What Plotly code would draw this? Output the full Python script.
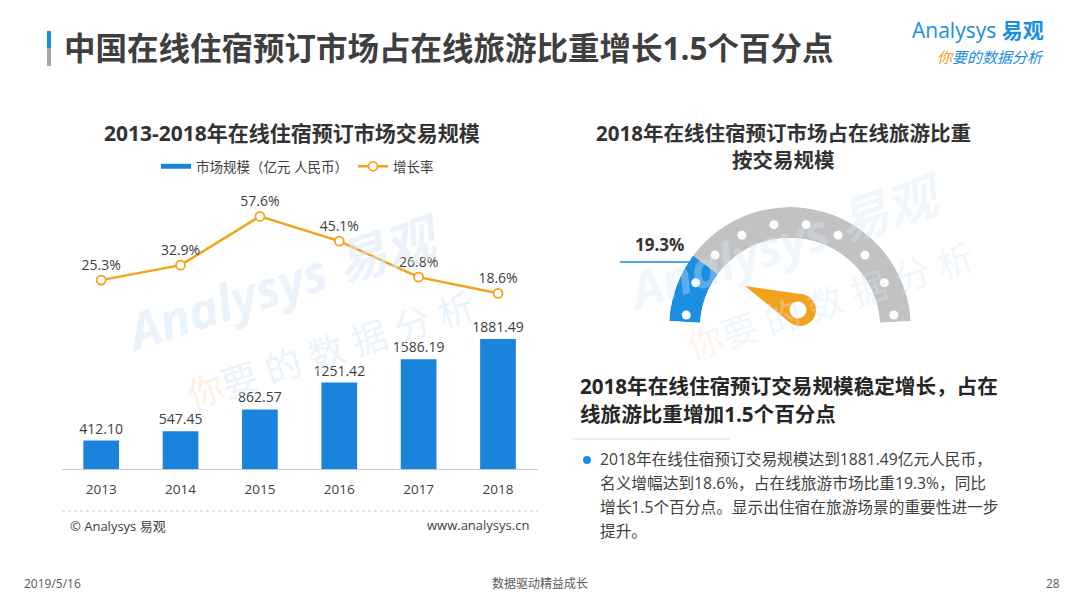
import math
import plotly.graph_objs as go

# Data
YEARS = ['2013', '2014', '2015', '2016', '2017', '2018']
MARKET_SIZE = [412.10, 547.45, 862.57, 1251.42, 1586.19, 1881.49]   # 亿元
GROWTH = [25.3, 32.9, 57.6, 45.1, 26.8, 18.6]                      # %
SHARE_2018 = 19.3                                                  # % of online travel
GAUGE_DOTS = [2.2, 12.9, 23.6, 34.2, 44.9, 55.1, 65.8, 76.4, 87.1, 97.8]  # gauge scale marks, %

BULLET_LINES = [
    '2018年在线住宿预订交易规模达到1881.49亿元人民币，',
    '名义增幅达到18.6%，占在线旅游市场比重19.3%，同比',
    '增长1.5个百分点。显示出住宿在旅游场景的重要性进一步',
    '提升。',
]

W, H = 1080, 607
OFF = 8   # page body margin that the figure sits inside
FONT = 'Open Sans, Noto Sans CJK SC, sans-serif'
BLUE = '#1a8ee0'
BAR_BLUE = '#1a84dc'
ORANGE = '#f4a11c'
GREY = '#c2c2c2'
TEXT = '#404040'


# page pixel -> paper helpers
def px(x):
    return (x - OFF) / W


def py(y):
    return 1 - (y - OFF) / H


# gauge: 100% spans the visible sector
SECTOR = [3.3, 176.7]
DEG_PER_PCT = (SECTOR[1] - SECTOR[0]) / 100

fig = go.Figure()

# Bars - market size
fig.add_trace(go.Bar(
    x=YEARS, y=MARKET_SIZE, name='市场规模（亿元 人民币）',
    marker=dict(color=BAR_BLUE, line=dict(width=0)), width=0.45,
    text=MARKET_SIZE, texttemplate='%{y:.2f}', textposition='outside',
    textfont=dict(size=14, color=TEXT), constraintext='none', cliponaxis=False,
    legendgroup='size', showlegend=False,
    xaxis='x', yaxis='y',
))
# legend entry for the bars (short thick bar like the original)
fig.add_trace(go.Scatter(
    x=[None], y=[None], mode='lines', name='市场规模（亿元 人民币）',
    line=dict(color=BAR_BLUE, width=5), legendgroup='size',
    xaxis='x', yaxis='y',
))

# Line - growth rate
fig.add_trace(go.Scatter(
    x=YEARS, y=GROWTH, name='增长率', mode='lines+markers+text',
    line=dict(color=ORANGE, width=2.5),
    marker=dict(symbol='circle', size=9, color='white', line=dict(color=ORANGE, width=1.8)),
    text=[f'{v}%' for v in GROWTH], textposition='top center',
    textfont=dict(size=14, color=TEXT), cliponaxis=False,
    xaxis='x', yaxis='y2',
))

# Gauge ring
rest = 100 - SHARE_2018
fig.add_trace(go.Barpolar(
    r=[1, 1],
    theta=[SHARE_2018 / 2 * DEG_PER_PCT, (SHARE_2018 + rest / 2) * DEG_PER_PCT],
    width=[SHARE_2018 * DEG_PER_PCT, rest * DEG_PER_PCT],
    marker=dict(color=[BLUE, GREY], line=dict(width=0)),
    showlegend=False, hoverinfo='skip',
))
fig.add_trace(go.Scatterpolar(
    r=[0.47] * len(GAUGE_DOTS), theta=[p * DEG_PER_PCT for p in GAUGE_DOTS],
    mode='markers', marker=dict(size=9, color='white'),
    showlegend=False, hoverinfo='skip',
))

fig.update_layout(
    width=W, height=H,
    margin=dict(l=0, r=0, t=0, b=0, autoexpand=False),
    paper_bgcolor='white', plot_bgcolor='rgba(0,0,0,0)',
    font=dict(family=FONT, color=TEXT),
    xaxis=dict(domain=[px(61.5), px(537.7)], type='category', anchor='y',
               showline=True, linecolor='#c8c8c8', linewidth=1, ticks='',
               showgrid=False, zeroline=False, ticklabelstandoff=8,
               tickfont=dict(size=13.5, color=TEXT)),
    yaxis=dict(domain=[py(469), py(330)], range=[0, 2011], visible=False),
    yaxis2=dict(domain=[py(330), py(190)], range=[0, 71], visible=False, anchor='x'),
    polar=dict(
        domain=dict(x=[px(668), px(912)], y=[py(328), py(207)]),
        sector=SECTOR, hole=0.744, bgcolor='rgba(0,0,0,0)',
        radialaxis=dict(visible=False, range=[0, 1]),
        angularaxis=dict(visible=False, rotation=SECTOR[1], direction='clockwise'),
    ),
    showlegend=True,
    legend=dict(orientation='h', x=px(156), y=py(151), xanchor='left', yanchor='top',
                font=dict(size=13.5, color=TEXT), bgcolor='rgba(0,0,0,0)',
                itemwidth=30, tracegroupgap=0),
)

annotations = []


def note(x, y, text, size, color=TEXT, anchor='left', angle=0, bold=False, opacity=1):
    annotations.append(dict(
        x=px(x), y=py(y), xref='paper', yref='paper', text=f'<b>{text}</b>' if bold else text,
        showarrow=False, xanchor=anchor, yanchor='middle', textangle=angle, opacity=opacity,
        font=dict(size=size, color=color, family=FONT),
    ))


# watermarks (faint)
WM_BLUE = '#d6e9f8'
WM_ORANGE = '#fbe3cc'
note(283, 283, '<i>Analysys 易观</i>', 50, WM_BLUE, 'center', -18, True, 0.5)
note(330, 350, f"<span style='color:{WM_ORANGE}'>你</span>要 的 数 据 分 析", 36, WM_BLUE, 'center', -18, False, 0.5)
note(785, 242, '<i>Analysys 易观</i>', 50, WM_BLUE, 'center', -18, True, 0.35)
note(830, 302, f"<span style='color:{WM_ORANGE}'>你</span>要 的 数 据 分 析", 36, WM_BLUE, 'center', -18, False, 0.35)

# slide title + logo
note(62, 48, '中国在线住宿预订市场占在线旅游比重增长1.5个百分点', 31.5, '#3f3f3f', bold=True)
note(1046, 30, 'Analysys <b>易观</b>', 21, BLUE, 'right')
note(1046, 57, "<i><span style='color:#f39c12'>你</span>要的数据分析</i>", 15, BLUE, 'right')

# chart titles
note(292, 133, '2013-2018年在线住宿预订市场交易规模', 21, '#333333', 'center', bold=True)
note(783, 133, '2018年在线住宿预订市场占在线旅游比重', 20.5, '#333333', 'center', bold=True)
note(783, 160, '按交易规模', 20.5, '#333333', 'center', bold=True)
note(659, 244, f'{SHARE_2018}%', 17, '#333333', 'center', bold=True)

# right text block
note(578, 386, '2018年在线住宿预订交易规模稳定增长，占在', 20.6, '#262626', bold=True)
note(578, 414, '线旅游比重增加1.5个百分点', 20.6, '#262626', bold=True)
for i, line in enumerate(BULLET_LINES):
    note(598, 459 + i * 24, line, 15.7, TEXT)

# source + footer
note(68, 526, '© Analysys 易观', 13, TEXT)
note(531, 525, 'www.analysys.cn', 13, TEXT, 'right')
note(22, 583, '2019/5/16', 12, '#595959')
note(540, 583, '数据驱动精益成长', 12, '#595959', 'center')
note(1062, 583, '28', 12, '#595959', 'right')

fig.update_layout(annotations=annotations)

shapes = []


def rect(x0, y0, x1, y1, color):
    shapes.append(dict(type='rect', xref='paper', yref='paper', x0=px(x0), x1=px(x1),
                       y0=py(y1), y1=py(y0), fillcolor=color, line=dict(width=0)))


def seg(x0, y0, x1, y1, color, width=1, dash='solid'):
    shapes.append(dict(type='line', xref='paper', yref='paper', x0=px(x0), x1=px(x1),
                       y0=py(y0), y1=py(y1), line=dict(color=color, width=width, dash=dash)))


def circle(cx, cy, r, color):
    shapes.append(dict(type='circle', xref='paper', yref='paper', x0=px(cx - r), x1=px(cx + r),
                       y0=py(cy + r), y1=py(cy - r), fillcolor=color, line=dict(width=0)))


# title marker bar
rect(47, 31, 51, 48, BLUE)
rect(47, 48, 51, 66, '#a6a6a6')
# leader line for the share label
seg(620, 262, 689, 262, BLUE, 1.5)
# separator under heading, dotted line under chart
seg(573, 439, 730, 439, '#dcdcdc', 1)
seg(62, 511, 538, 511, '#c8c8c8', 1, 'dot')
# bullet
circle(587, 460, 4, BLUE)

# needle: triangle to the tip + ring
cx, cy, r_needle, r_hole = 800, 310, 16, 8.5
tip_x, tip_y = 745, 286
phi = math.atan2(tip_y - cy, tip_x - cx)
half = math.acos(r_needle / math.hypot(tip_x - cx, tip_y - cy))
pts = [(tip_x, tip_y)]
for a in (phi + half, phi - half):
    pts.append((cx + r_needle * math.cos(a), cy + r_needle * math.sin(a)))
path = 'M ' + ' L '.join(f'{px(x):.5f},{py(y):.5f}' for x, y in pts) + ' Z'
shapes.append(dict(type='path', xref='paper', yref='paper', path=path,
                   fillcolor=ORANGE, line=dict(width=0)))
circle(cx, cy, r_needle, ORANGE)
circle(cx - 2, cy, r_hole, 'white')

fig.update_layout(shapes=shapes)

fig.write_html('out.html')
